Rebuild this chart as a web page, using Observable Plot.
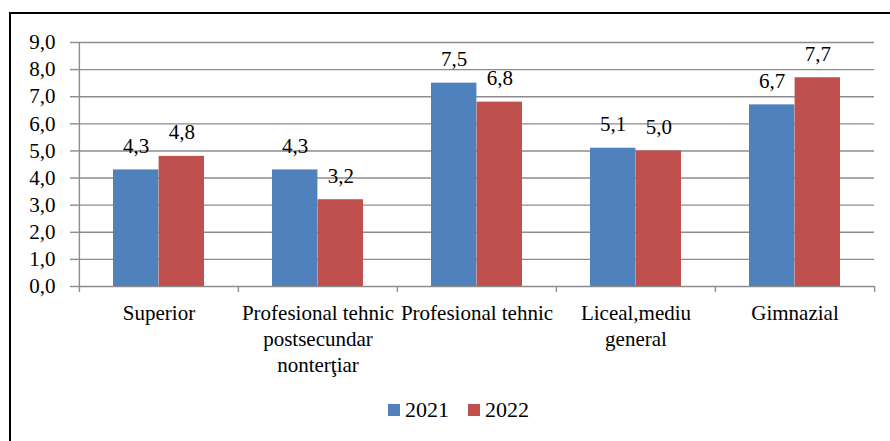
<!DOCTYPE html>
<html>
<head>
<meta charset="utf-8">
<script src="https://cdn.jsdelivr.net/npm/d3@7"></script>
<script src="https://cdn.jsdelivr.net/npm/@observablehq/plot@0.6"></script>
<style>
  html, body { margin: 0; padding: 0; background: #fff; overflow: hidden; }
  body { width: 890px; height: 441px; position: relative; font-family: "Liberation Serif", "DejaVu Serif", serif; }
  #frame { position: absolute; left: 9px; top: 12px; width: 1000px; height: 1000px; border: 2px solid #000; box-sizing: border-box; }
  #chart { position: absolute; left: 0; top: 0; }
  #legend { position: absolute; left: 388px; top: 397px; display: flex; align-items: center; font-size: 22px; color: #000; font-family: "Liberation Serif", "DejaVu Serif", serif; }
  .item { display: flex; align-items: center; margin-right: 19px; }
  .sw { width: 12px; height: 12px; margin-right: 5px; }
  #chart svg text { font-family: "Liberation Serif", "DejaVu Serif", serif; }
</style>
</head>
<body>
<div id="frame"></div>
<div id="chart"></div>
<div id="legend"></div>
<script>
const categories = ["Superior", "Profesional tehnic\npostsecundar\nnonterţiar", "Profesional tehnic", "Liceal,mediu\ngeneral", "Gimnazial"];
const series = ["2021", "2022"];
const values2021 = [4.3, 4.3, 7.5, 5.1, 6.7];
const values2022 = [4.8, 3.2, 6.8, 5.0, 7.7];
const yTicks = [0, 1, 2, 3, 4, 5, 6, 7, 8, 9];
const colors = ["#4F81BD", "#C0504D"];

const data = [];
categories.forEach((c, i) => {
  data.push({category: c, year: series[0], value: values2021[i]});
  data.push({category: c, year: series[1], value: values2022[i]});
});
const fmt = v => v.toFixed(1).replace(".", ",");
const FF = '"Liberation Serif", "DejaVu Serif", serif';
const FS = 21;

const W = 890, H = 385;
const mL = 78, mR = 16, mT = 42, mB = H - 286;
const band = (W - mL - mR) / categories.length;
const groupPad = 34;
const barW = (band - 2 * groupPad) / 2;

const d21 = data.filter(d => d.year === series[0]);
const d22 = data.filter(d => d.year === series[1]);
const gridStroke = "#8c8c8c";

const chart = Plot.plot({
  width: W,
  height: H,
  marginLeft: mL,
  marginRight: mR,
  marginTop: mT,
  marginBottom: mB,
  style: {fontFamily: FF, fontSize: FS + "px", color: "#000", background: "transparent"},
  x: {domain: categories, padding: 0, axis: null},
  y: {domain: [0, 9], axis: null},
  marks: [
    Plot.ruleY(yTicks, {stroke: gridStroke, strokeWidth: 1.4}),
    Plot.barY(d21, {x: "category", y: "value", fill: colors[0], insetLeft: groupPad, insetRight: groupPad + barW}),
    Plot.barY(d22, {x: "category", y: "value", fill: colors[1], insetLeft: groupPad + barW, insetRight: groupPad}),
    Plot.text(d21, {x: "category", y: "value", text: d => fmt(d.value), dx: -barW / 2, dy: -17, lineAnchor: "bottom", fontSize: FS, fontFamily: FF, fill: "#000"}),
    Plot.text(d22, {x: "category", y: "value", text: d => fmt(d.value), dx: barW / 2, dy: -17, lineAnchor: "bottom", fontSize: FS, fontFamily: FF, fill: "#000"}),
    Plot.axisY({ticks: yTicks, tickFormat: fmt, label: null, tickSize: 8, tickPadding: 15, stroke: gridStroke, strokeWidth: 1.4, fontSize: FS, fontFamily: FF, fill: "#000"}),
    Plot.ruleX([categories[0]], {x: d => d, dx: -band / 2, y1: -0.03, y2: 9, stroke: gridStroke, strokeWidth: 1.4}),
    Plot.axisX({tickSize: 0, tickPadding: 14.5, label: null, fontSize: FS, fontFamily: FF, lineHeight: 1.24, fill: "#000"}),
    Plot.ruleX(categories, {x: d => d, dx: -band / 2, y1: 0, y2: -0.22, stroke: gridStroke, strokeWidth: 1.4}),
    Plot.ruleX([categories[categories.length - 1]], {x: d => d, dx: band / 2, y1: 0, y2: -0.22, stroke: gridStroke, strokeWidth: 1.4})
  ]
});
document.getElementById("chart").appendChild(chart);

const legend = document.getElementById("legend");
series.forEach((s, i) => {
  const item = document.createElement("div");
  item.className = "item";
  const sw = document.createElement("span");
  sw.className = "sw";
  sw.style.background = colors[i];
  const t = document.createElement("span");
  t.textContent = s;
  item.appendChild(sw);
  item.appendChild(t);
  legend.appendChild(item);
});
</script>
</body>
</html>
